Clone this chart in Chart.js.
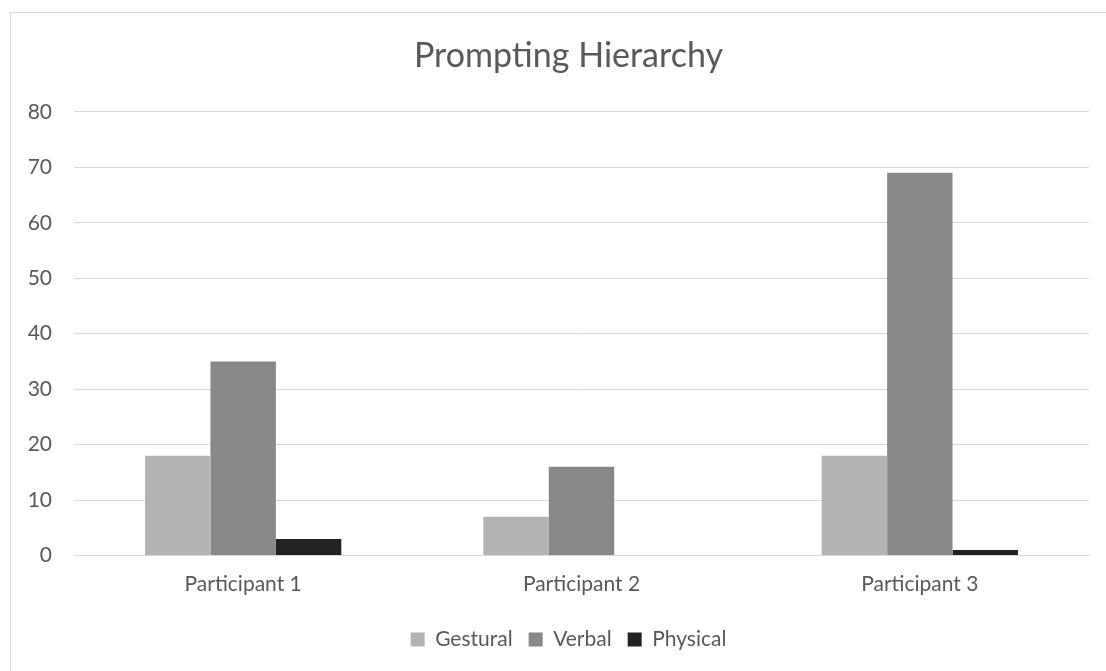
<!DOCTYPE html>
<html>
<head>
<meta charset="utf-8">
<script src="https://cdn.jsdelivr.net/npm/chart.js@4"></script>
<style>
  html, body { margin: 0; padding: 0; background: #fff; overflow: hidden; }
  .box {
    position: absolute; left: 10px; top: 12px;
    width: 1115px; height: 670px;
    border-left: 1px solid #d9d9d9; border-top: 1px solid #d9d9d9;
  }
</style>
</head>
<body>
<div class="box"><canvas id="myChart" width="1115" height="670"></canvas></div>
<script>
const categories = ["Participant 1", "Participant 2", "Participant 3"]
const gestural = [18, 7, 18]
const verbal = [35, 16, 69]
const physical = [3, 0, 1]

const fontFamily = "'Lato', 'Open Sans', sans-serif"
const textColor = "#595959"
const gridColor = "#d9d9d9"

const ctx = document.getElementById('myChart').getContext("2d")

const myChart = new Chart(ctx, {
  type: 'bar',
  data: {
    labels: categories,
    datasets: [
      { label: "Gestural", data: gestural, backgroundColor: "#b3b3b3" },
      { label: "Verbal", data: verbal, backgroundColor: "#888888" },
      { label: "Physical", data: physical, backgroundColor: "#222222" }
    ]
  },
  options: {
    responsive: false,
    animation: false,
    categoryPercentage: 0.58,
    barPercentage: 1,
    layout: {
      padding: { left: 0, right: 0, top: 0, bottom: 23 }
    },
    plugins: {
      title: {
        display: true,
        text: "Prompting Hierarchy",
        color: textColor,
        font: { family: fontFamily, size: 34, weight: "normal" },
        padding: { top: 23, bottom: 35 }
      },
      legend: {
        position: 'bottom',
        labels: {
          color: textColor,
          boxWidth: 14,
          boxHeight: 14,
          padding: 16,
          font: { family: fontFamily, size: 21 }
        }
      },
      tooltip: { enabled: false }
    },
    scales: {
      x: {
        grid: { display: false, drawTicks: false },
        border: { color: gridColor },
        ticks: {
          color: textColor,
          padding: 14,
          font: { family: fontFamily, size: 21, lineHeight: 1.4 }
        }
      },
      y: {
        min: 0,
        max: 80,
        afterFit: (scale) => { scale.width = 63 },
        grid: { color: gridColor, drawTicks: false },
        border: { display: false },
        ticks: {
          stepSize: 10,
          color: textColor,
          padding: 22,
          font: { family: fontFamily, size: 21 }
        }
      },
      // empty right margin so the title and legend stay centred on the whole box
      yRight: {
        position: 'right',
        min: 0,
        max: 80,
        afterFit: (scale) => { scale.width = 37 },
        grid: { display: false, drawTicks: false },
        border: { display: false },
        ticks: { display: false }
      }
    }
  }
});
</script>
</body>
</html>
